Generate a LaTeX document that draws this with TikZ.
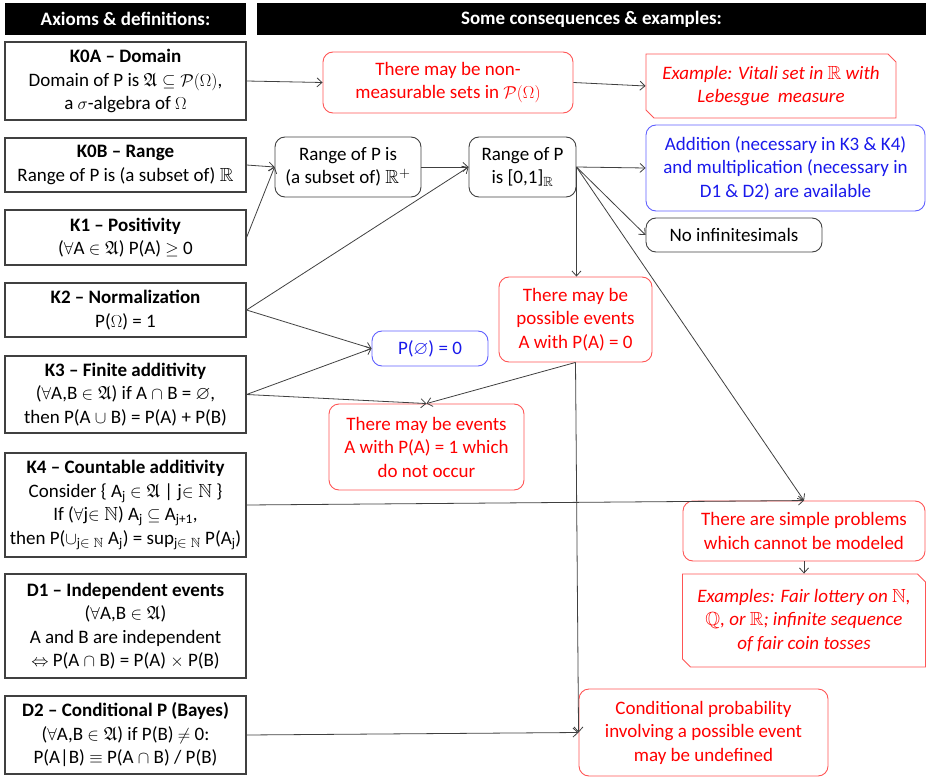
\documentclass[tikz,border=0pt]{standalone}
\usepackage{amsmath,amssymb}
\usepackage{fontspec}
\setmainfont{Carlito}
\usepackage{xcolor}
\usepackage{tikz}
\usetikzlibrary{arrows.meta,shapes.misc}

\definecolor{lngray}{RGB}{64,64,64}
\definecolor{redtxt}{RGB}{255,0,0}
\definecolor{redln}{RGB}{255,85,85}
\definecolor{bluetxt}{RGB}{25,25,235}
\definecolor{blueln}{RGB}{95,95,255}

\begin{document}
\begin{tikzpicture}[x=1pt, y=-1pt,
    every node/.style={font=\fontsize{19}{23.5}\selectfont, align=center, inner sep=0pt},
    hdr/.style={fill=black, text=white, font=\fontsize{19}{22}\selectfont\bfseries, minimum height=32pt},
    axbox/.style={draw=lngray, line width=1.1pt, minimum width=241pt},
    blkbox/.style={draw=lngray, line width=0.9pt, rounded corners=10pt},
    redbox/.style={draw=redln, line width=0.9pt, text=redtxt, rounded corners=10pt},
    bluebox/.style={draw=blueln, line width=0.9pt, text=bluetxt, rounded corners=10pt},
    snipbox/.style={draw=redln, line width=0.9pt, text=redtxt, chamfered rectangle,
      chamfered rectangle corners={north east,south west}, chamfered rectangle sep=4pt},
    conn/.style={draw=lngray, line width=0.8pt, -{Straight Barb[length=5pt,width=9pt]}}]
  \useasboundingbox (0,0) rectangle (926,778);

  % headers
  \node[hdr, minimum width=241pt] (hdrL) at (125.5,19) {Axioms \& definitions:};
  \node[hdr, minimum width=669pt] (hdrR) at (591.5,19) {Some consequences \& examples:};

  % axioms and definitions
  \node[axbox, minimum height=78pt] (k0a) at (125.5,81)
    {\textbf{K0A -- Domain}\\Domain of P is $\mathfrak{A}\subseteq\mathcal{P}(\Omega)$,\\a $\sigma$-algebra of $\Omega$};
  \node[axbox, minimum height=54pt] (k0b) at (125.5,165)
    {\textbf{K0B -- Range}\\Range of P is (a subset of) $\mathbb{R}$};
  \node[axbox, minimum height=55pt] (k1) at (125.5,237.5)
    {\textbf{K1 -- Positivity}\\($\forall$A $\in\mathfrak{A}$) P(A) $\geq$ 0};
  \node[axbox, minimum height=54pt] (k2) at (125.5,310)
    {\textbf{K2 -- Normalization}\\P($\Omega$) = 1};
  \node[axbox, minimum height=77pt] (k3) at (125.5,394.5)
    {\textbf{K3 -- Finite additivity}\\($\forall$A,B $\in\mathfrak{A}$) if A $\cap$ B = $\varnothing$,\\then P(A $\cup$ B) = P(A) + P(B)};
  \node[axbox, minimum height=104pt] (k4) at (125.5,505)
    {\textbf{K4 -- Countable additivity}\\Consider \{ A\textsubscript{j} $\in\mathfrak{A}$ | j$\in\mathbb{N}$ \}\\If ($\forall$j$\in\mathbb{N}$) A\textsubscript{j} $\subseteq$ A\textsubscript{j+1},\\then P($\cup$\textsubscript{j$\in\mathbb{N}$} A\textsubscript{j}) = sup\textsubscript{j$\in\mathbb{N}$} P(A\textsubscript{j})};
  \node[axbox, minimum height=104pt] (d1) at (125.5,626)
    {\textbf{D1 -- Independent events}\\($\forall$A,B $\in\mathfrak{A}$)\\A and B are independent\\$\Leftrightarrow$ P(A $\cap$ B) = P(A) $\times$ P(B)};
  \node[axbox, minimum height=78pt] (d2) at (125.5,735)
    {\textbf{D2 -- Conditional P (Bayes)}\\($\forall$A,B $\in\mathfrak{A}$) if P(B) $\neq$ 0:\\P(A|B) $\equiv$ P(A $\cap$ B) / P(B)};

  % consequences and examples
  \node[redbox, minimum width=250pt, minimum height=61pt] (nonmeas) at (448,82.5)
    {There may be non-\\measurable sets in $\mathcal{P}(\Omega)$};
  \node[snipbox, minimum width=250pt, minimum height=64pt] (vitali) at (771,86)
    {\textit{Example: Vitali set in $\mathbb{R}$ with}\\\textit{Lebesgue\ \ measure}};
  \node[blkbox, minimum width=146pt, minimum height=60pt] (rplus) at (348,167)
    {Range of P is\\(a subset of) $\mathbb{R}^+$};
  \node[blkbox, minimum width=107pt, minimum height=60pt] (range01) at (522.5,167)
    {Range of P\\is [0,1]$_\mathbb{R}$};
  \node[bluebox, minimum width=279pt, minimum height=86pt] (addition) at (785.5,168)
    {Addition (necessary in K3 \& K4)\\and multiplication (necessary in\\D1 \& D2) are available};
  \node[blkbox, minimum width=176pt, minimum height=34pt] (noinf) at (734,235) {No infinitesimals};
  \node[bluebox, minimum width=116pt, minimum height=35pt] (pempty) at (430,348.5) {P($\varnothing$) = 0};
  \node[redbox, minimum width=153pt, minimum height=85pt] (posev) at (575.5,319.5)
    {There may be\\possible events\\A with P(A) = 0};
  \node[redbox, minimum width=195pt, minimum height=86pt] (evone) at (426.5,447)
    {There may be events\\A with P(A) = 1 which\\do not occur};
  \node[redbox, minimum width=242pt, minimum height=60pt] (simple) at (804,531)
    {There are simple problems\\which cannot be modeled};
  \node[snipbox, minimum width=243pt, minimum height=93pt] (lottery) at (804,620.5)
    {\textit{Examples: Fair lottery on $\mathbb{N}$,}\\\textit{$\mathbb{Q}$, or $\mathbb{R}$; infinite sequence}\\\textit{of fair coin tosses}};
  \node[redbox, minimum width=249pt, minimum height=87pt] (condp) at (703.5,732.5)
    {Conditional probability\\involving a possible event\\may be undefined};

  % connectors
  \draw[conn] (k0a.east) -- (nonmeas.west);
  \draw[conn] (nonmeas.east) -- (vitali.west);
  \draw[conn] (k0b.east) -- (rplus.west);
  \draw[conn] (k1.east) -- (rplus.west);
  \draw[conn] (rplus.east) -- (range01.west);
  \draw[conn] (k2.east) -- (range01.west);
  \draw[conn] (k2.east) -- (pempty.west);
  \draw[conn] (k3.east) -- (pempty.west);
  \draw[conn] (k3.east) -- (evone.north);
  \draw[conn] (posev.south) -- (evone.north);
  \draw[conn] (range01.east) -- (range01.east |- posev.north);
  \draw[conn] (range01.east) -- (addition.west);
  \draw[conn] (range01.east) -- (noinf.west);
  \draw[conn] (range01.east) -- (simple.north);
  \draw[conn] (k4.east) -- (simple.north);
  \draw[conn] (simple.south) -- (lottery.north);
  \draw[conn] (posev.south) -- (condp.west);
  \draw[conn] (d2.east) -- (condp.west);
\end{tikzpicture}
\end{document}
